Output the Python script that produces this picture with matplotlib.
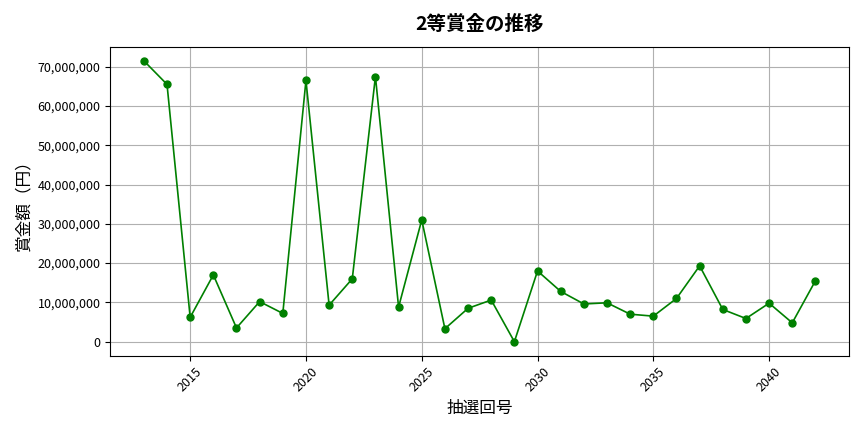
import matplotlib
matplotlib.use('Agg')
import matplotlib.pyplot as plt
from matplotlib.ticker import FuncFormatter

plt.rcParams['font.family'] = ['Noto Sans CJK JP', 'DejaVu Sans']

draws = list(range(2013, 2043))
prize = [71.5, 65.5, 6.2, 17.0, 3.5, 10.2, 7.2, 66.5, 9.3, 16.0,
         67.5, 8.8, 31.0, 3.3, 8.5, 10.6, 0.0, 18.0, 12.8, 9.6,
         9.9, 7.0, 6.5, 11.0, 19.3, 8.2, 5.9, 9.8, 4.8, 15.5]
prize = [p * 1e6 for p in prize]

fig, ax = plt.subplots(figsize=(8.64, 4.32), dpi=100)
ax.plot(draws, prize, color='green', marker='o', markersize=5, linewidth=1.2)
ax.grid(True, color='#b0b0b0', linewidth=0.8)
ax.yaxis.set_major_formatter(FuncFormatter(lambda v, p: f'{int(v):,}'))
ax.set_title('2等賞金の推移', fontsize=14, fontweight='bold', pad=12)
ax.set_xlabel('抽選回号', fontsize=12)
ax.set_ylabel('賞金額（円）', fontsize=12)
plt.setp(ax.get_xticklabels(), rotation=45)
ax.tick_params(labelsize=9)
plt.tight_layout()
plt.savefig('out.png')
